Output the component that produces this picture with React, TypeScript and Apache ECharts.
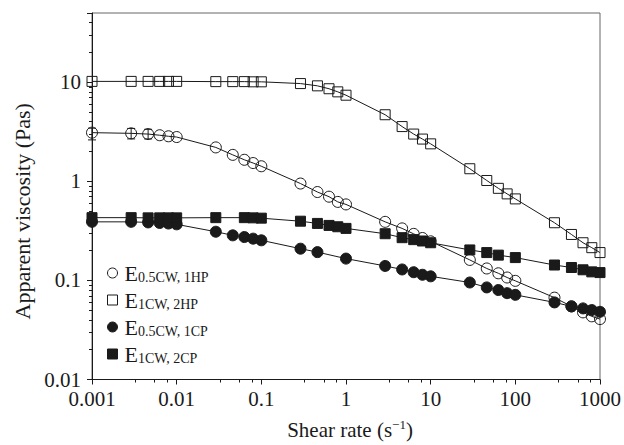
import React, { useEffect, useRef } from "react";
import * as echarts from "echarts";

const shearRates = [
  0.001, 0.0029, 0.0046, 0.0063, 0.008, 0.01,
  0.029, 0.046, 0.063, 0.08, 0.1,
  0.29, 0.46, 0.63, 0.8, 1,
  2.9, 4.6, 6.3, 8, 10,
  29, 46, 63, 80, 100,
  290, 460, 630, 800, 1000,
];

const seriesNames = ["E0.5CW, 1HP", "E1CW, 2HP", "E0.5CW, 1CP", "E1CW, 2CP"];
const legendSubs = ["0.5CW, 1HP", "1CW, 2HP", "0.5CW, 1CP", "1CW, 2CP"];

const visc05_1HP = [
  3.1, 3.05, 3.0, 2.92, 2.85, 2.8,
  2.2, 1.85, 1.65, 1.53, 1.42,
  0.95, 0.78, 0.7, 0.62, 0.585,
  0.39, 0.335, 0.295, 0.268, 0.248,
  0.161, 0.132, 0.118, 0.107, 0.099,
  0.067, 0.0547, 0.0476, 0.0434, 0.0407,
];
const visc1_2HP = [
  10.2, 10.2, 10.2, 10.2, 10.2, 10.2,
  10.15, 10.15, 10.15, 10.1, 10.1,
  9.7, 9.2, 8.6, 8.0, 7.4,
  4.7, 3.57, 3.0, 2.67, 2.39,
  1.34, 1.02, 0.85, 0.747, 0.665,
  0.382, 0.291, 0.24, 0.214, 0.191,
];
const visc05_1CP = [
  0.39, 0.39, 0.385, 0.38, 0.375, 0.368,
  0.31, 0.285, 0.274, 0.264, 0.254,
  0.209, 0.193, null, null, 0.166,
  0.14, 0.129, 0.121, 0.114, 0.11,
  0.0953, 0.085, 0.08, 0.0744, 0.0715,
  0.06, 0.0547, 0.0522, 0.0502, 0.0482,
];
const visc1_2CP = [
  0.43, 0.43, 0.428, 0.428, 0.428, 0.428,
  0.43, null, 0.43, 0.428, 0.425,
  0.396, 0.376, 0.359, 0.348, 0.335,
  0.296, 0.27, 0.258, 0.25, 0.24,
  0.203, 0.191, 0.18, null, 0.17,
  0.143, 0.135, 0.128, 0.122, 0.12,
];

const errX = [0.001, 0.0029, 0.0046];
const errHigh = [3.44, 3.42, 3.35];
const errLow = [2.62, 2.68, 2.68];

const xTickLabels = ["0.001", "0.01", "0.1", "1", "10", "100", "1000"];
const yTickLabels = ["0.01", "0.1", "1", "10"];

const FONT = "Liberation Serif";
const INK = "#1a1a1a";

function pairs(ys: (number | null)[]) {
  const out: [number, number][] = [];
  ys.forEach((y, i) => {
    if (y !== null) out.push([shearRates[i], y]);
  });
  return out;
}

export default function App() {
  const ref = useRef<HTMLDivElement>(null);
  useEffect(() => {
    if (!ref.current) return;
    const chart = echarts.init(ref.current, undefined, { renderer: "svg" });
    const hollow = { color: "rgba(0,0,0,0)", borderColor: INK, borderWidth: 1 };
    const solid = { color: INK, borderColor: INK, borderWidth: 1 };
    const styles = [
      { symbol: "circle", itemStyle: hollow },
      { symbol: "rect", itemStyle: hollow },
      { symbol: "circle", itemStyle: solid },
      { symbol: "rect", itemStyle: solid },
    ];
    const values = [visc05_1HP, visc1_2HP, visc05_1CP, visc1_2CP];

    const lineSeries = seriesNames.map((name, i) => ({
      type: "line",
      name,
      data: pairs(values[i]),
      symbol: styles[i].symbol,
      symbolSize: styles[i].symbol === "rect" ? 10 : 11,
      showAllSymbol: true,
      itemStyle: styles[i].itemStyle,
      lineStyle: { color: INK, width: 1 },
      emphasis: { disabled: true },
      clip: false,
      z: 3 + i,
    }));

    const errSeries = {
      type: "custom",
      name: "err",
      data: errX.map((x, i) => [x, errLow[i], errHigh[i]]),
      encode: { x: 0, y: [1, 2] },
      z: 2,
      renderItem: (params: any, api: any) => {
        const x = api.value(0);
        const lo = api.coord([x, api.value(1)]);
        const hi = api.coord([x, api.value(2)]);
        const w = 4;
        const st = { stroke: INK, lineWidth: 1 };
        return {
          type: "group",
          children: [
            { type: "line", shape: { x1: lo[0], y1: lo[1], x2: hi[0], y2: hi[1] }, style: st },
            { type: "line", shape: { x1: lo[0] - w, y1: lo[1], x2: lo[0] + w, y2: lo[1] }, style: st },
            { type: "line", shape: { x1: hi[0] - w, y1: hi[1], x2: hi[0] + w, y2: hi[1] }, style: st },
          ],
        };
      },
    };

    chart.setOption({
      animation: false,
      backgroundColor: "#ffffff",
      textStyle: { fontFamily: FONT },
      grid: {
        left: 92,
        right: 21,
        top: 13,
        bottom: 64,
        show: true,
        borderColor: "#666",
        borderWidth: 1,
        backgroundColor: "transparent",
      },
      legend: {
        orient: "vertical",
        left: 107,
        top: 262,
        padding: 0,
        itemWidth: 10,
        itemHeight: 10,
        itemGap: 5,
        selectedMode: false,
        data: seriesNames.map((name, i) => ({
          name,
          icon: styles[i].symbol,
          itemStyle: styles[i].itemStyle,
        })),
        formatter: (name: string) => {
          const idx = seriesNames.indexOf(name);
          return `{e|E}{s|${legendSubs[idx]}}`;
        },
        textStyle: {
          fontFamily: FONT,
          color: INK,
          padding: [0, 0, 0, 2],
          rich: {
            e: { fontSize: 22, lineHeight: 22, fontFamily: FONT, color: INK },
            s: { fontSize: 14, lineHeight: 10, verticalAlign: "bottom", fontFamily: FONT, color: INK },
          },
        },
      },
      xAxis: {
        type: "log",
        logBase: 10,
        min: 0.001,
        max: 1000,
        splitNumber: 6,
        name: "{a|Shear rate (s}{b|\u22121}{a|)}",
        nameLocation: "middle",
        nameGap: 38,
        nameTextStyle: {
          padding: [0, 0, 0, 8],
          rich: {
            a: { fontSize: 21, lineHeight: 24, fontFamily: FONT, color: INK },
            b: { fontSize: 13, lineHeight: 13, verticalAlign: "top", fontFamily: FONT, color: INK },
          },
        },
        axisLine: { show: true, lineStyle: { color: INK, width: 1 } },
        axisTick: { show: true, length: 5, lineStyle: { color: INK } },
        minorTick: { show: true, splitNumber: 4, length: 3, lineStyle: { color: INK } },
        splitLine: { show: false },
        minorSplitLine: { show: false },
        axisLabel: {
          fontFamily: FONT,
          fontSize: 21,
          color: INK,
          margin: 9,
          formatter: (v: number) => xTickLabels[Math.round(Math.log10(v)) + 3] ?? "",
        },
      },
      yAxis: {
        type: "log",
        logBase: 10,
        min: 0.01,
        max: 50,
        splitNumber: 4,
        name: "Apparent viscosity (Pas)",
        nameLocation: "middle",
        nameGap: 57,
        nameTextStyle: { fontSize: 22, fontFamily: FONT, color: INK, padding: [0, 30, 0, 0] },
        axisLine: { show: true, lineStyle: { color: INK, width: 1 } },
        axisTick: { show: true, length: 5, lineStyle: { color: INK } },
        minorTick: { show: true, splitNumber: 9, length: 3, lineStyle: { color: INK } },
        splitLine: { show: false },
        minorSplitLine: { show: false },
        axisLabel: {
          fontFamily: FONT,
          fontSize: 21,
          color: INK,
          margin: 11,
          showMaxLabel: false,
          formatter: (v: number) => {
            const k = Math.log10(v);
            if (Math.abs(k - Math.round(k)) > 1e-6) return "";
            return yTickLabels[Math.round(k) + 2] ?? "";
          },
        },
      },
      series: [errSeries, ...lineSeries],
    });
    return () => chart.dispose();
  }, []);
  return <div ref={ref} style={{ width: 624, height: 445, position: "absolute", left: 0, top: 0 }} />;
}
